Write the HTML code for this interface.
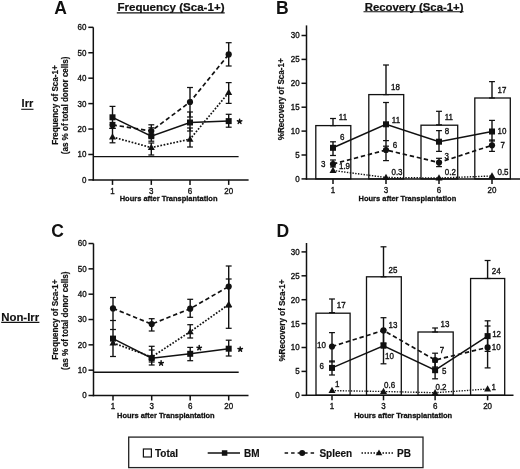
<!DOCTYPE html>
<html><head><meta charset="utf-8"><style>
html,body{margin:0;padding:0;background:#fff;}
svg{display:block;will-change:transform;}
text{font-family:"Liberation Sans", sans-serif;fill:#111;}
</style></head><body>
<svg width="520" height="469" viewBox="0 0 520 469">
<rect width="520" height="469" fill="#fff"/>
<text x="54.3" y="13.5" font-size="17.5" font-weight="bold" text-anchor="start">A</text>
<text x="171" y="11.2" font-size="10.7" font-weight="bold" text-anchor="middle" textLength="107" lengthAdjust="spacingAndGlyphs" stroke="#111" stroke-width="0.2">Frequency (Sca-1+)</text>
<line x1="116.8" y1="12.9" x2="224.7" y2="12.9" stroke="#111" stroke-width="1.1"/>
<text x="21.6" y="107.3" font-size="11" font-weight="bold" text-anchor="start" stroke="#111" stroke-width="0.15">Irr</text>
<line x1="21.2" y1="109.3" x2="33.5" y2="109.3" stroke="#111" stroke-width="1.1"/>
<text transform="translate(57.9,105) rotate(-90)" font-size="8.3" font-weight="bold" text-anchor="middle" textLength="79.6" lengthAdjust="spacingAndGlyphs" stroke="#111" stroke-width="0.2">Frequency of Sca-1+</text>
<text transform="translate(67.5,105.4) rotate(-90)" font-size="8.3" font-weight="bold" text-anchor="middle" textLength="97.6" lengthAdjust="spacingAndGlyphs" stroke="#111" stroke-width="0.2">(as % of total donor cells)</text>
<line x1="93.3" y1="27.32" x2="93.3" y2="180.65" stroke="#111" stroke-width="1.5"/>
<line x1="88.3" y1="179.9" x2="93.3" y2="179.9" stroke="#111" stroke-width="1.5"/>
<text transform="translate(86.5,182.8) scale(1,1.1)" font-size="8" font-weight="normal" text-anchor="end" stroke="#111" stroke-width="0.32">0</text>
<line x1="88.3" y1="154.47" x2="93.3" y2="154.47" stroke="#111" stroke-width="1.5"/>
<text transform="translate(86.5,157.37) scale(1,1.1)" font-size="8" font-weight="normal" text-anchor="end" stroke="#111" stroke-width="0.32">10</text>
<line x1="88.3" y1="129.04" x2="93.3" y2="129.04" stroke="#111" stroke-width="1.5"/>
<text transform="translate(86.5,131.94) scale(1,1.1)" font-size="8" font-weight="normal" text-anchor="end" stroke="#111" stroke-width="0.32">20</text>
<line x1="88.3" y1="103.61" x2="93.3" y2="103.61" stroke="#111" stroke-width="1.5"/>
<text transform="translate(86.5,106.51) scale(1,1.1)" font-size="8" font-weight="normal" text-anchor="end" stroke="#111" stroke-width="0.32">30</text>
<line x1="88.3" y1="78.18" x2="93.3" y2="78.18" stroke="#111" stroke-width="1.5"/>
<text transform="translate(86.5,81.08000000000001) scale(1,1.1)" font-size="8" font-weight="normal" text-anchor="end" stroke="#111" stroke-width="0.32">40</text>
<line x1="88.3" y1="52.75" x2="93.3" y2="52.75" stroke="#111" stroke-width="1.5"/>
<text transform="translate(86.5,55.65) scale(1,1.1)" font-size="8" font-weight="normal" text-anchor="end" stroke="#111" stroke-width="0.32">50</text>
<line x1="88.3" y1="27.32" x2="93.3" y2="27.32" stroke="#111" stroke-width="1.5"/>
<text transform="translate(86.5,30.22) scale(1,1.1)" font-size="8" font-weight="normal" text-anchor="end" stroke="#111" stroke-width="0.32">60</text>
<line x1="92.55" y1="179.9" x2="248.6" y2="179.9" stroke="#111" stroke-width="1.5"/>
<line x1="112.5" y1="179.9" x2="112.5" y2="184.9" stroke="#111" stroke-width="1.5"/>
<text transform="translate(112.5,193.6) scale(1,1.1)" font-size="8" font-weight="normal" text-anchor="middle" stroke="#111" stroke-width="0.32">1</text>
<line x1="151.3" y1="179.9" x2="151.3" y2="184.9" stroke="#111" stroke-width="1.5"/>
<text transform="translate(151.3,193.6) scale(1,1.1)" font-size="8" font-weight="normal" text-anchor="middle" stroke="#111" stroke-width="0.32">3</text>
<line x1="190" y1="179.9" x2="190" y2="184.9" stroke="#111" stroke-width="1.5"/>
<text transform="translate(190,193.6) scale(1,1.1)" font-size="8" font-weight="normal" text-anchor="middle" stroke="#111" stroke-width="0.32">6</text>
<line x1="228.7" y1="179.9" x2="228.7" y2="184.9" stroke="#111" stroke-width="1.5"/>
<text transform="translate(228.7,193.6) scale(1,1.1)" font-size="8" font-weight="normal" text-anchor="middle" stroke="#111" stroke-width="0.32">20</text>
<text x="168.6" y="201.2" font-size="8.1" font-weight="bold" text-anchor="middle" textLength="97.8" lengthAdjust="spacingAndGlyphs" stroke="#111" stroke-width="0.3">Hours after Transplantation</text>
<line x1="93.3" y1="156.6" x2="238.6" y2="156.6" stroke="#111" stroke-width="1.4"/>
<line x1="112.5" y1="106.4" x2="112.5" y2="128.4" stroke="#111" stroke-width="1.4"/>
<line x1="109.55" y1="106.4" x2="115.45" y2="106.4" stroke="#111" stroke-width="1.25"/>
<line x1="109.55" y1="128.4" x2="115.45" y2="128.4" stroke="#111" stroke-width="1.25"/>
<line x1="112.5" y1="122.5" x2="112.5" y2="128.4" stroke="#111" stroke-width="1.4"/>
<line x1="109.55" y1="122.5" x2="115.45" y2="122.5" stroke="#111" stroke-width="1.25"/>
<line x1="109.55" y1="128.4" x2="115.45" y2="128.4" stroke="#111" stroke-width="1.25"/>
<line x1="112.5" y1="128.4" x2="112.5" y2="142.8" stroke="#111" stroke-width="1.4"/>
<line x1="109.55" y1="128.4" x2="115.45" y2="128.4" stroke="#111" stroke-width="1.25"/>
<line x1="109.55" y1="142.8" x2="115.45" y2="142.8" stroke="#111" stroke-width="1.25"/>
<line x1="151.3" y1="124.8" x2="151.3" y2="141.2" stroke="#111" stroke-width="1.4"/>
<line x1="148.35000000000002" y1="124.8" x2="154.25" y2="124.8" stroke="#111" stroke-width="1.25"/>
<line x1="148.35000000000002" y1="141.2" x2="154.25" y2="141.2" stroke="#111" stroke-width="1.25"/>
<line x1="151.3" y1="127.8" x2="151.3" y2="137" stroke="#111" stroke-width="1.4"/>
<line x1="148.35000000000002" y1="127.8" x2="154.25" y2="127.8" stroke="#111" stroke-width="1.25"/>
<line x1="148.35000000000002" y1="137" x2="154.25" y2="137" stroke="#111" stroke-width="1.25"/>
<line x1="151.3" y1="143" x2="151.3" y2="155" stroke="#111" stroke-width="1.4"/>
<line x1="148.35000000000002" y1="143" x2="154.25" y2="143" stroke="#111" stroke-width="1.25"/>
<line x1="148.35000000000002" y1="155" x2="154.25" y2="155" stroke="#111" stroke-width="1.25"/>
<line x1="190" y1="87.5" x2="190" y2="117" stroke="#111" stroke-width="1.4"/>
<line x1="187.05" y1="87.5" x2="192.95" y2="87.5" stroke="#111" stroke-width="1.25"/>
<line x1="187.05" y1="117" x2="192.95" y2="117" stroke="#111" stroke-width="1.25"/>
<line x1="190" y1="112" x2="190" y2="131" stroke="#111" stroke-width="1.4"/>
<line x1="187.05" y1="112" x2="192.95" y2="112" stroke="#111" stroke-width="1.25"/>
<line x1="187.05" y1="131" x2="192.95" y2="131" stroke="#111" stroke-width="1.25"/>
<line x1="190" y1="128" x2="190" y2="147" stroke="#111" stroke-width="1.4"/>
<line x1="187.05" y1="128" x2="192.95" y2="128" stroke="#111" stroke-width="1.25"/>
<line x1="187.05" y1="147" x2="192.95" y2="147" stroke="#111" stroke-width="1.25"/>
<line x1="228.7" y1="42.7" x2="228.7" y2="66" stroke="#111" stroke-width="1.4"/>
<line x1="225.75" y1="42.7" x2="231.64999999999998" y2="42.7" stroke="#111" stroke-width="1.25"/>
<line x1="225.75" y1="66" x2="231.64999999999998" y2="66" stroke="#111" stroke-width="1.25"/>
<line x1="228.7" y1="82.6" x2="228.7" y2="103.4" stroke="#111" stroke-width="1.4"/>
<line x1="225.75" y1="82.6" x2="231.64999999999998" y2="82.6" stroke="#111" stroke-width="1.25"/>
<line x1="225.75" y1="103.4" x2="231.64999999999998" y2="103.4" stroke="#111" stroke-width="1.25"/>
<line x1="228.7" y1="114.3" x2="228.7" y2="127.2" stroke="#111" stroke-width="1.4"/>
<line x1="225.75" y1="114.3" x2="231.64999999999998" y2="114.3" stroke="#111" stroke-width="1.25"/>
<line x1="225.75" y1="127.2" x2="231.64999999999998" y2="127.2" stroke="#111" stroke-width="1.25"/>
<polyline points="112.5,117.3 151.3,136.2 190,122.5 228.7,121.1" fill="none" stroke="#111" stroke-width="1.5"/>
<polyline points="112.5,124.9 151.3,131.0 190,102.0 228.7,54.4" fill="none" stroke="#111" stroke-width="1.7" stroke-dasharray="4.4,2.8"/>
<polyline points="112.5,137 151.3,147.6 190,139.2 228.7,92.6" fill="none" stroke="#111" stroke-width="1.7" stroke-dasharray="1.7,1.6"/>
<rect x="109.5" y="114.3" width="6" height="6" fill="#111"/>
<rect x="148.3" y="133.2" width="6" height="6" fill="#111"/>
<rect x="187.0" y="119.5" width="6" height="6" fill="#111"/>
<rect x="225.7" y="118.1" width="6" height="6" fill="#111"/>
<circle cx="112.5" cy="124.9" r="3.1" fill="#111"/>
<circle cx="151.3" cy="131.0" r="3.1" fill="#111"/>
<circle cx="190" cy="102.0" r="3.1" fill="#111"/>
<circle cx="228.7" cy="54.4" r="3.1" fill="#111"/>
<polygon points="112.5,133.22 116.0,139.52 109.0,139.52" fill="#111"/>
<polygon points="151.3,143.82 154.8,150.12 147.8,150.12" fill="#111"/>
<polygon points="190,135.42 193.5,141.72 186.5,141.72" fill="#111"/>
<polygon points="228.7,88.82 232.2,95.11999999999999 225.2,95.11999999999999" fill="#111"/>
<path d="M239.6,121.5L239.6,119.15 M239.6,121.5L241.83,120.77 M239.6,121.5L240.98,123.4 M239.6,121.5L238.22,123.4 M239.6,121.5L237.37,120.77" stroke="#111" stroke-width="1.5" stroke-linecap="round" fill="none"/>
<circle cx="239.6" cy="121.5" r="0.9" fill="#111"/>
<text x="51.2" y="236.9" font-size="17.5" font-weight="bold" text-anchor="start">C</text>
<text x="1.2" y="320.7" font-size="11" font-weight="bold" text-anchor="start" textLength="38" lengthAdjust="spacingAndGlyphs" stroke="#111" stroke-width="0.15">Non-Irr</text>
<line x1="1.2" y1="322.4" x2="39.4" y2="322.4" stroke="#111" stroke-width="1.1"/>
<text transform="translate(57.9,319.7) rotate(-90)" font-size="8.3" font-weight="bold" text-anchor="middle" textLength="80.3" lengthAdjust="spacingAndGlyphs" stroke="#111" stroke-width="0.2">Frequency of Sca-1+</text>
<text transform="translate(67.5,320.8) rotate(-90)" font-size="8.3" font-weight="bold" text-anchor="middle" textLength="98.3" lengthAdjust="spacingAndGlyphs" stroke="#111" stroke-width="0.2">(as % of total donor cells)</text>
<line x1="93.5" y1="243.52" x2="93.5" y2="396.25" stroke="#111" stroke-width="1.5"/>
<line x1="88.5" y1="395.5" x2="93.5" y2="395.5" stroke="#111" stroke-width="1.5"/>
<text transform="translate(86.7,398.4) scale(1,1.1)" font-size="8" font-weight="normal" text-anchor="end" stroke="#111" stroke-width="0.32">0</text>
<line x1="88.5" y1="370.17" x2="93.5" y2="370.17" stroke="#111" stroke-width="1.5"/>
<text transform="translate(86.7,373.07) scale(1,1.1)" font-size="8" font-weight="normal" text-anchor="end" stroke="#111" stroke-width="0.32">10</text>
<line x1="88.5" y1="344.84" x2="93.5" y2="344.84" stroke="#111" stroke-width="1.5"/>
<text transform="translate(86.7,347.73999999999995) scale(1,1.1)" font-size="8" font-weight="normal" text-anchor="end" stroke="#111" stroke-width="0.32">20</text>
<line x1="88.5" y1="319.51" x2="93.5" y2="319.51" stroke="#111" stroke-width="1.5"/>
<text transform="translate(86.7,322.40999999999997) scale(1,1.1)" font-size="8" font-weight="normal" text-anchor="end" stroke="#111" stroke-width="0.32">30</text>
<line x1="88.5" y1="294.18" x2="93.5" y2="294.18" stroke="#111" stroke-width="1.5"/>
<text transform="translate(86.7,297.08) scale(1,1.1)" font-size="8" font-weight="normal" text-anchor="end" stroke="#111" stroke-width="0.32">40</text>
<line x1="88.5" y1="268.85" x2="93.5" y2="268.85" stroke="#111" stroke-width="1.5"/>
<text transform="translate(86.7,271.75) scale(1,1.1)" font-size="8" font-weight="normal" text-anchor="end" stroke="#111" stroke-width="0.32">50</text>
<line x1="88.5" y1="243.52" x2="93.5" y2="243.52" stroke="#111" stroke-width="1.5"/>
<text transform="translate(86.7,246.42000000000002) scale(1,1.1)" font-size="8" font-weight="normal" text-anchor="end" stroke="#111" stroke-width="0.32">60</text>
<line x1="92.75" y1="395.5" x2="248.5" y2="395.5" stroke="#111" stroke-width="1.5"/>
<line x1="113" y1="395.5" x2="113" y2="400.5" stroke="#111" stroke-width="1.5"/>
<text transform="translate(113,408.9) scale(1,1.1)" font-size="8" font-weight="normal" text-anchor="middle" stroke="#111" stroke-width="0.32">1</text>
<line x1="151.7" y1="395.5" x2="151.7" y2="400.5" stroke="#111" stroke-width="1.5"/>
<text transform="translate(151.7,408.9) scale(1,1.1)" font-size="8" font-weight="normal" text-anchor="middle" stroke="#111" stroke-width="0.32">3</text>
<line x1="190.2" y1="395.5" x2="190.2" y2="400.5" stroke="#111" stroke-width="1.5"/>
<text transform="translate(190.2,408.9) scale(1,1.1)" font-size="8" font-weight="normal" text-anchor="middle" stroke="#111" stroke-width="0.32">6</text>
<line x1="228.7" y1="395.5" x2="228.7" y2="400.5" stroke="#111" stroke-width="1.5"/>
<text transform="translate(228.7,408.9) scale(1,1.1)" font-size="8" font-weight="normal" text-anchor="middle" stroke="#111" stroke-width="0.32">20</text>
<text x="165.8" y="418.0" font-size="8.1" font-weight="bold" text-anchor="middle" textLength="97.6" lengthAdjust="spacingAndGlyphs" stroke="#111" stroke-width="0.3">Hours after Transplantation</text>
<line x1="93.5" y1="372.3" x2="238.7" y2="372.3" stroke="#111" stroke-width="1.4"/>
<line x1="113" y1="297.5" x2="113" y2="320.5" stroke="#111" stroke-width="1.4"/>
<line x1="110.05" y1="297.5" x2="115.95" y2="297.5" stroke="#111" stroke-width="1.25"/>
<line x1="110.05" y1="320.5" x2="115.95" y2="320.5" stroke="#111" stroke-width="1.25"/>
<line x1="113" y1="329.5" x2="113" y2="356.5" stroke="#111" stroke-width="1.4"/>
<line x1="110.05" y1="329.5" x2="115.95" y2="329.5" stroke="#111" stroke-width="1.25"/>
<line x1="110.05" y1="356.5" x2="115.95" y2="356.5" stroke="#111" stroke-width="1.25"/>
<line x1="113" y1="320.5" x2="113" y2="329.5" stroke="#111" stroke-width="1.4"/>
<line x1="151.7" y1="318.7" x2="151.7" y2="331" stroke="#111" stroke-width="1.4"/>
<line x1="148.75" y1="318.7" x2="154.64999999999998" y2="318.7" stroke="#111" stroke-width="1.25"/>
<line x1="148.75" y1="331" x2="154.64999999999998" y2="331" stroke="#111" stroke-width="1.25"/>
<line x1="151.7" y1="346.3" x2="151.7" y2="365" stroke="#111" stroke-width="1.4"/>
<line x1="148.75" y1="346.3" x2="154.64999999999998" y2="346.3" stroke="#111" stroke-width="1.25"/>
<line x1="148.75" y1="365" x2="154.64999999999998" y2="365" stroke="#111" stroke-width="1.25"/>
<line x1="151.7" y1="350" x2="151.7" y2="362" stroke="#111" stroke-width="1.4"/>
<line x1="148.75" y1="350" x2="154.64999999999998" y2="350" stroke="#111" stroke-width="1.25"/>
<line x1="148.75" y1="362" x2="154.64999999999998" y2="362" stroke="#111" stroke-width="1.25"/>
<line x1="190.2" y1="299.3" x2="190.2" y2="317.3" stroke="#111" stroke-width="1.4"/>
<line x1="187.25" y1="299.3" x2="193.14999999999998" y2="299.3" stroke="#111" stroke-width="1.25"/>
<line x1="187.25" y1="317.3" x2="193.14999999999998" y2="317.3" stroke="#111" stroke-width="1.25"/>
<line x1="190.2" y1="324.7" x2="190.2" y2="338" stroke="#111" stroke-width="1.4"/>
<line x1="187.25" y1="324.7" x2="193.14999999999998" y2="324.7" stroke="#111" stroke-width="1.25"/>
<line x1="187.25" y1="338" x2="193.14999999999998" y2="338" stroke="#111" stroke-width="1.25"/>
<line x1="190.2" y1="347.4" x2="190.2" y2="360.7" stroke="#111" stroke-width="1.4"/>
<line x1="187.25" y1="347.4" x2="193.14999999999998" y2="347.4" stroke="#111" stroke-width="1.25"/>
<line x1="187.25" y1="360.7" x2="193.14999999999998" y2="360.7" stroke="#111" stroke-width="1.25"/>
<line x1="228.7" y1="266" x2="228.7" y2="307" stroke="#111" stroke-width="1.4"/>
<line x1="225.75" y1="266" x2="231.64999999999998" y2="266" stroke="#111" stroke-width="1.25"/>
<line x1="225.75" y1="307" x2="231.64999999999998" y2="307" stroke="#111" stroke-width="1.25"/>
<line x1="228.7" y1="279" x2="228.7" y2="328.3" stroke="#111" stroke-width="1.4"/>
<line x1="225.75" y1="279" x2="231.64999999999998" y2="279" stroke="#111" stroke-width="1.25"/>
<line x1="225.75" y1="328.3" x2="231.64999999999998" y2="328.3" stroke="#111" stroke-width="1.25"/>
<line x1="228.7" y1="340.2" x2="228.7" y2="356" stroke="#111" stroke-width="1.4"/>
<line x1="225.75" y1="340.2" x2="231.64999999999998" y2="340.2" stroke="#111" stroke-width="1.25"/>
<line x1="225.75" y1="356" x2="231.64999999999998" y2="356" stroke="#111" stroke-width="1.25"/>
<polyline points="113,338.6 151.7,358.2 190.2,353.8 228.7,348.7" fill="none" stroke="#111" stroke-width="1.5"/>
<polyline points="113,308.4 151.7,324.1 190.2,308.7 228.7,286.5" fill="none" stroke="#111" stroke-width="1.7" stroke-dasharray="4.4,2.8"/>
<polyline points="113,342.9 151.7,357 190.2,331.7 228.7,304.5" fill="none" stroke="#111" stroke-width="1.7" stroke-dasharray="1.7,1.6"/>
<rect x="110.0" y="335.6" width="6" height="6" fill="#111"/>
<rect x="148.7" y="355.2" width="6" height="6" fill="#111"/>
<rect x="187.2" y="350.8" width="6" height="6" fill="#111"/>
<rect x="225.7" y="345.7" width="6" height="6" fill="#111"/>
<circle cx="113" cy="308.4" r="3.1" fill="#111"/>
<circle cx="151.7" cy="324.1" r="3.1" fill="#111"/>
<circle cx="190.2" cy="308.7" r="3.1" fill="#111"/>
<circle cx="228.7" cy="286.5" r="3.1" fill="#111"/>
<polygon points="113,339.12 116.5,345.41999999999996 109.5,345.41999999999996" fill="#111"/>
<polygon points="151.7,353.22 155.2,359.52 148.2,359.52" fill="#111"/>
<polygon points="190.2,327.92 193.7,334.21999999999997 186.7,334.21999999999997" fill="#111"/>
<polygon points="228.7,300.72 232.2,307.02 225.2,307.02" fill="#111"/>
<path d="M161.1,363.2L161.1,360.85 M161.1,363.2L163.33,362.47 M161.1,363.2L162.48,365.1 M161.1,363.2L159.72,365.1 M161.1,363.2L158.87,362.47" stroke="#111" stroke-width="1.5" stroke-linecap="round" fill="none"/>
<circle cx="161.1" cy="363.2" r="0.9" fill="#111"/>
<path d="M199.2,347.9L199.2,345.55 M199.2,347.9L201.43,347.17 M199.2,347.9L200.58,349.8 M199.2,347.9L197.82,349.8 M199.2,347.9L196.97,347.17" stroke="#111" stroke-width="1.5" stroke-linecap="round" fill="none"/>
<circle cx="199.2" cy="347.9" r="0.9" fill="#111"/>
<path d="M240.2,349.3L240.2,346.95 M240.2,349.3L242.43,348.57 M240.2,349.3L241.58,351.2 M240.2,349.3L238.82,351.2 M240.2,349.3L237.97,348.57" stroke="#111" stroke-width="1.5" stroke-linecap="round" fill="none"/>
<circle cx="240.2" cy="349.3" r="0.9" fill="#111"/>
<text x="276" y="13.5" font-size="17.5" font-weight="bold" text-anchor="start">B</text>
<text x="414.1" y="10.5" font-size="10.4" font-weight="bold" text-anchor="middle" textLength="98.7" lengthAdjust="spacingAndGlyphs" stroke="#111" stroke-width="0.2">Recovery (Sca-1+)</text>
<line x1="363.5" y1="11.8" x2="463.6" y2="11.8" stroke="#111" stroke-width="1.1"/>
<text transform="translate(284.3,99.3) rotate(-90)" font-size="8.4" font-weight="bold" text-anchor="middle" textLength="82" lengthAdjust="spacingAndGlyphs" stroke="#111" stroke-width="0.2">%Recovery of Sca-1+</text>
<rect x="315.8" y="125.6" width="35.0" height="53.30000000000001" fill="none" stroke="#111" stroke-width="1.3"/>
<rect x="368.8" y="94.6" width="34.89999999999998" height="84.30000000000001" fill="none" stroke="#111" stroke-width="1.3"/>
<rect x="421" y="125.2" width="36.69999999999999" height="53.7" fill="none" stroke="#111" stroke-width="1.3"/>
<rect x="474.8" y="98" width="35.5" height="80.9" fill="none" stroke="#111" stroke-width="1.3"/>
<line x1="333" y1="118.5" x2="333" y2="125.6" stroke="#111" stroke-width="1.4"/>
<line x1="330.05" y1="118.5" x2="335.95" y2="118.5" stroke="#111" stroke-width="1.25"/>
<line x1="330.05" y1="125.6" x2="335.95" y2="125.6" stroke="#111" stroke-width="1.25"/>
<line x1="386" y1="65" x2="386" y2="94.6" stroke="#111" stroke-width="1.4"/>
<line x1="383.05" y1="65" x2="388.95" y2="65" stroke="#111" stroke-width="1.25"/>
<line x1="383.05" y1="94.6" x2="388.95" y2="94.6" stroke="#111" stroke-width="1.25"/>
<line x1="439" y1="111.3" x2="439" y2="124.8" stroke="#111" stroke-width="1.4"/>
<line x1="436.05" y1="111.3" x2="441.95" y2="111.3" stroke="#111" stroke-width="1.25"/>
<line x1="436.05" y1="124.8" x2="441.95" y2="124.8" stroke="#111" stroke-width="1.25"/>
<line x1="492" y1="81.6" x2="492" y2="98" stroke="#111" stroke-width="1.4"/>
<line x1="489.05" y1="81.6" x2="494.95" y2="81.6" stroke="#111" stroke-width="1.25"/>
<line x1="489.05" y1="98" x2="494.95" y2="98" stroke="#111" stroke-width="1.25"/>
<line x1="306.5" y1="25.4" x2="306.5" y2="179.65" stroke="#111" stroke-width="1.5"/>
<line x1="301.5" y1="178.9" x2="306.5" y2="178.9" stroke="#111" stroke-width="1.5"/>
<text transform="translate(299.7,181.8) scale(1,1.1)" font-size="8" font-weight="normal" text-anchor="end" stroke="#111" stroke-width="0.32">0</text>
<line x1="301.5" y1="155.0" x2="306.5" y2="155.0" stroke="#111" stroke-width="1.5"/>
<text transform="translate(299.7,157.9) scale(1,1.1)" font-size="8" font-weight="normal" text-anchor="end" stroke="#111" stroke-width="0.32">5</text>
<line x1="301.5" y1="131.1" x2="306.5" y2="131.1" stroke="#111" stroke-width="1.5"/>
<text transform="translate(299.7,134.0) scale(1,1.1)" font-size="8" font-weight="normal" text-anchor="end" stroke="#111" stroke-width="0.32">10</text>
<line x1="301.5" y1="107.2" x2="306.5" y2="107.2" stroke="#111" stroke-width="1.5"/>
<text transform="translate(299.7,110.10000000000001) scale(1,1.1)" font-size="8" font-weight="normal" text-anchor="end" stroke="#111" stroke-width="0.32">15</text>
<line x1="301.5" y1="83.3" x2="306.5" y2="83.3" stroke="#111" stroke-width="1.5"/>
<text transform="translate(299.7,86.2) scale(1,1.1)" font-size="8" font-weight="normal" text-anchor="end" stroke="#111" stroke-width="0.32">20</text>
<line x1="301.5" y1="59.4" x2="306.5" y2="59.4" stroke="#111" stroke-width="1.5"/>
<text transform="translate(299.7,62.3) scale(1,1.1)" font-size="8" font-weight="normal" text-anchor="end" stroke="#111" stroke-width="0.32">25</text>
<line x1="301.5" y1="35.5" x2="306.5" y2="35.5" stroke="#111" stroke-width="1.5"/>
<text transform="translate(299.7,38.4) scale(1,1.1)" font-size="8" font-weight="normal" text-anchor="end" stroke="#111" stroke-width="0.32">30</text>
<line x1="305.75" y1="178.9" x2="520" y2="178.9" stroke="#111" stroke-width="1.5"/>
<line x1="333" y1="178.9" x2="333" y2="183.9" stroke="#111" stroke-width="1.5"/>
<text transform="translate(333,192.7) scale(1,1.1)" font-size="8" font-weight="normal" text-anchor="middle" stroke="#111" stroke-width="0.32">1</text>
<line x1="386" y1="178.9" x2="386" y2="183.9" stroke="#111" stroke-width="1.5"/>
<text transform="translate(386,192.7) scale(1,1.1)" font-size="8" font-weight="normal" text-anchor="middle" stroke="#111" stroke-width="0.32">3</text>
<line x1="439" y1="178.9" x2="439" y2="183.9" stroke="#111" stroke-width="1.5"/>
<text transform="translate(439,192.7) scale(1,1.1)" font-size="8" font-weight="normal" text-anchor="middle" stroke="#111" stroke-width="0.32">6</text>
<line x1="492" y1="178.9" x2="492" y2="183.9" stroke="#111" stroke-width="1.5"/>
<text transform="translate(492,192.7) scale(1,1.1)" font-size="8" font-weight="normal" text-anchor="middle" stroke="#111" stroke-width="0.32">20</text>
<text x="407.4" y="201.2" font-size="8.1" font-weight="bold" text-anchor="middle" textLength="97.7" lengthAdjust="spacingAndGlyphs" stroke="#111" stroke-width="0.3">Hours after Transplantation</text>
<line x1="333" y1="141.8" x2="333" y2="155.5" stroke="#111" stroke-width="1.4"/>
<line x1="330.05" y1="141.8" x2="335.95" y2="141.8" stroke="#111" stroke-width="1.25"/>
<line x1="330.05" y1="155.5" x2="335.95" y2="155.5" stroke="#111" stroke-width="1.25"/>
<line x1="333" y1="160" x2="333" y2="167" stroke="#111" stroke-width="1.4"/>
<line x1="330.05" y1="160" x2="335.95" y2="160" stroke="#111" stroke-width="1.25"/>
<line x1="330.05" y1="167" x2="335.95" y2="167" stroke="#111" stroke-width="1.25"/>
<line x1="386" y1="102.5" x2="386" y2="140.6" stroke="#111" stroke-width="1.4"/>
<line x1="383.05" y1="102.5" x2="388.95" y2="102.5" stroke="#111" stroke-width="1.25"/>
<line x1="383.05" y1="140.6" x2="388.95" y2="140.6" stroke="#111" stroke-width="1.25"/>
<line x1="386" y1="146.2" x2="386" y2="160.6" stroke="#111" stroke-width="1.4"/>
<line x1="383.05" y1="146.2" x2="388.95" y2="146.2" stroke="#111" stroke-width="1.25"/>
<line x1="383.05" y1="160.6" x2="388.95" y2="160.6" stroke="#111" stroke-width="1.25"/>
<line x1="386" y1="140.6" x2="386" y2="146.2" stroke="#111" stroke-width="1.4"/>
<line x1="439" y1="130.6" x2="439" y2="151.4" stroke="#111" stroke-width="1.4"/>
<line x1="436.05" y1="130.6" x2="441.95" y2="130.6" stroke="#111" stroke-width="1.25"/>
<line x1="436.05" y1="151.4" x2="441.95" y2="151.4" stroke="#111" stroke-width="1.25"/>
<line x1="439" y1="158.3" x2="439" y2="166.6" stroke="#111" stroke-width="1.4"/>
<line x1="436.05" y1="158.3" x2="441.95" y2="158.3" stroke="#111" stroke-width="1.25"/>
<line x1="436.05" y1="166.6" x2="441.95" y2="166.6" stroke="#111" stroke-width="1.25"/>
<line x1="492" y1="120.4" x2="492" y2="141" stroke="#111" stroke-width="1.4"/>
<line x1="489.05" y1="120.4" x2="494.95" y2="120.4" stroke="#111" stroke-width="1.25"/>
<line x1="489.05" y1="141" x2="494.95" y2="141" stroke="#111" stroke-width="1.25"/>
<line x1="492" y1="140" x2="492" y2="151.4" stroke="#111" stroke-width="1.4"/>
<line x1="489.05" y1="140" x2="494.95" y2="140" stroke="#111" stroke-width="1.25"/>
<line x1="489.05" y1="151.4" x2="494.95" y2="151.4" stroke="#111" stroke-width="1.25"/>
<polyline points="333,147.8 386,124.3 439,141.7 492,131.5" fill="none" stroke="#111" stroke-width="1.5"/>
<polyline points="333,164 386,150 439,162.5 492,145.3" fill="none" stroke="#111" stroke-width="1.7" stroke-dasharray="4.4,2.8"/>
<polyline points="333,170.5 386,177.5 439,178 492,176" fill="none" stroke="#111" stroke-width="1.4" stroke-dasharray="1.4,1.4"/>
<rect x="330.0" y="144.8" width="6" height="6" fill="#111"/>
<rect x="383.0" y="121.3" width="6" height="6" fill="#111"/>
<rect x="436.0" y="138.7" width="6" height="6" fill="#111"/>
<rect x="489.0" y="128.5" width="6" height="6" fill="#111"/>
<circle cx="333" cy="164" r="3.1" fill="#111"/>
<circle cx="386" cy="150" r="3.1" fill="#111"/>
<circle cx="439" cy="162.5" r="3.1" fill="#111"/>
<circle cx="492" cy="145.3" r="3.1" fill="#111"/>
<polygon points="333,166.72 336.5,173.02 329.5,173.02" fill="#111"/>
<polygon points="386,173.72 389.5,180.02 382.5,180.02" fill="#111"/>
<polygon points="439,174.22 442.5,180.52 435.5,180.52" fill="#111"/>
<polygon points="492,172.22 495.5,178.52 488.5,178.52" fill="#111"/>
<text transform="translate(343,119.5) scale(1,1.1)" font-size="8" font-weight="normal" text-anchor="middle" stroke="#111" stroke-width="0.32">11</text>
<text transform="translate(395.5,90) scale(1,1.1)" font-size="8" font-weight="normal" text-anchor="middle" stroke="#111" stroke-width="0.32">18</text>
<text transform="translate(448.8,120.2) scale(1,1.1)" font-size="8" font-weight="normal" text-anchor="middle" stroke="#111" stroke-width="0.32">11</text>
<text transform="translate(502,92.8) scale(1,1.1)" font-size="8" font-weight="normal" text-anchor="middle" stroke="#111" stroke-width="0.32">17</text>
<text transform="translate(342.3,140.3) scale(1,1.1)" font-size="8" font-weight="normal" text-anchor="middle" stroke="#111" stroke-width="0.32">6</text>
<text transform="translate(396,123.3) scale(1,1.1)" font-size="8" font-weight="normal" text-anchor="middle" stroke="#111" stroke-width="0.32">11</text>
<text transform="translate(447,133.5) scale(1,1.1)" font-size="8" font-weight="normal" text-anchor="middle" stroke="#111" stroke-width="0.32">8</text>
<text transform="translate(502,133.8) scale(1,1.1)" font-size="8" font-weight="normal" text-anchor="middle" stroke="#111" stroke-width="0.32">10</text>
<text transform="translate(323.2,166.8) scale(1,1.1)" font-size="8" font-weight="normal" text-anchor="middle" stroke="#111" stroke-width="0.32">3</text>
<text transform="translate(395,148) scale(1,1.1)" font-size="8" font-weight="normal" text-anchor="middle" stroke="#111" stroke-width="0.32">6</text>
<text transform="translate(446.8,158.5) scale(1,1.1)" font-size="8" font-weight="normal" text-anchor="middle" stroke="#111" stroke-width="0.32">3</text>
<text transform="translate(502.8,148.2) scale(1,1.1)" font-size="8" font-weight="normal" text-anchor="middle" stroke="#111" stroke-width="0.32">7</text>
<text transform="translate(344.5,169.3) scale(1,1.1)" font-size="8" font-weight="normal" text-anchor="middle" stroke="#111" stroke-width="0.32">1.9</text>
<text transform="translate(397,175.4) scale(1,1.1)" font-size="8" font-weight="normal" text-anchor="middle" stroke="#111" stroke-width="0.32">0.3</text>
<text transform="translate(450.4,175.4) scale(1,1.1)" font-size="8" font-weight="normal" text-anchor="middle" stroke="#111" stroke-width="0.32">0.2</text>
<text transform="translate(503,175.4) scale(1,1.1)" font-size="8" font-weight="normal" text-anchor="middle" stroke="#111" stroke-width="0.32">0.5</text>
<text x="276.4" y="236.9" font-size="17.5" font-weight="bold" text-anchor="start">D</text>
<text transform="translate(284.5,320.6) rotate(-90)" font-size="8.4" font-weight="bold" text-anchor="middle" textLength="82" lengthAdjust="spacingAndGlyphs" stroke="#111" stroke-width="0.2">%Recovery of Sca-1+</text>
<rect x="316" y="313.2" width="34.10000000000002" height="82.10000000000002" fill="none" stroke="#111" stroke-width="1.3"/>
<rect x="366.5" y="276.8" width="34.80000000000001" height="118.5" fill="none" stroke="#111" stroke-width="1.3"/>
<rect x="418" y="332" width="35.19999999999999" height="63.30000000000001" fill="none" stroke="#111" stroke-width="1.3"/>
<rect x="470.6" y="278.5" width="34.099999999999966" height="116.80000000000001" fill="none" stroke="#111" stroke-width="1.3"/>
<line x1="332" y1="299" x2="332" y2="312.6" stroke="#111" stroke-width="1.4"/>
<line x1="329.05" y1="299" x2="334.95" y2="299" stroke="#111" stroke-width="1.25"/>
<line x1="329.05" y1="312.6" x2="334.95" y2="312.6" stroke="#111" stroke-width="1.25"/>
<line x1="383.5" y1="246.8" x2="383.5" y2="276.8" stroke="#111" stroke-width="1.4"/>
<line x1="380.55" y1="246.8" x2="386.45" y2="246.8" stroke="#111" stroke-width="1.25"/>
<line x1="380.55" y1="276.8" x2="386.45" y2="276.8" stroke="#111" stroke-width="1.25"/>
<line x1="435.1" y1="328" x2="435.1" y2="332" stroke="#111" stroke-width="1.4"/>
<line x1="432.15000000000003" y1="328" x2="438.05" y2="328" stroke="#111" stroke-width="1.25"/>
<line x1="432.15000000000003" y1="332" x2="438.05" y2="332" stroke="#111" stroke-width="1.25"/>
<line x1="487.6" y1="260.5" x2="487.6" y2="278.5" stroke="#111" stroke-width="1.4"/>
<line x1="484.65000000000003" y1="260.5" x2="490.55" y2="260.5" stroke="#111" stroke-width="1.25"/>
<line x1="484.65000000000003" y1="278.5" x2="490.55" y2="278.5" stroke="#111" stroke-width="1.25"/>
<line x1="306.5" y1="243" x2="306.5" y2="396.05" stroke="#111" stroke-width="1.5"/>
<line x1="301.5" y1="395.3" x2="306.5" y2="395.3" stroke="#111" stroke-width="1.5"/>
<text transform="translate(299.7,398.2) scale(1,1.1)" font-size="8" font-weight="normal" text-anchor="end" stroke="#111" stroke-width="0.32">0</text>
<line x1="301.5" y1="371.4" x2="306.5" y2="371.4" stroke="#111" stroke-width="1.5"/>
<text transform="translate(299.7,374.29999999999995) scale(1,1.1)" font-size="8" font-weight="normal" text-anchor="end" stroke="#111" stroke-width="0.32">5</text>
<line x1="301.5" y1="347.5" x2="306.5" y2="347.5" stroke="#111" stroke-width="1.5"/>
<text transform="translate(299.7,350.4) scale(1,1.1)" font-size="8" font-weight="normal" text-anchor="end" stroke="#111" stroke-width="0.32">10</text>
<line x1="301.5" y1="323.6" x2="306.5" y2="323.6" stroke="#111" stroke-width="1.5"/>
<text transform="translate(299.7,326.5) scale(1,1.1)" font-size="8" font-weight="normal" text-anchor="end" stroke="#111" stroke-width="0.32">15</text>
<line x1="301.5" y1="299.7" x2="306.5" y2="299.7" stroke="#111" stroke-width="1.5"/>
<text transform="translate(299.7,302.59999999999997) scale(1,1.1)" font-size="8" font-weight="normal" text-anchor="end" stroke="#111" stroke-width="0.32">20</text>
<line x1="301.5" y1="275.8" x2="306.5" y2="275.8" stroke="#111" stroke-width="1.5"/>
<text transform="translate(299.7,278.7) scale(1,1.1)" font-size="8" font-weight="normal" text-anchor="end" stroke="#111" stroke-width="0.32">25</text>
<line x1="301.5" y1="251.9" x2="306.5" y2="251.9" stroke="#111" stroke-width="1.5"/>
<text transform="translate(299.7,254.8) scale(1,1.1)" font-size="8" font-weight="normal" text-anchor="end" stroke="#111" stroke-width="0.32">30</text>
<line x1="305.75" y1="395.3" x2="513.5" y2="395.3" stroke="#111" stroke-width="1.5"/>
<line x1="332" y1="395.3" x2="332" y2="400.3" stroke="#111" stroke-width="1.5"/>
<text transform="translate(332,408.9) scale(1,1.1)" font-size="8" font-weight="normal" text-anchor="middle" stroke="#111" stroke-width="0.32">1</text>
<line x1="383.5" y1="395.3" x2="383.5" y2="400.3" stroke="#111" stroke-width="1.5"/>
<text transform="translate(383.5,408.9) scale(1,1.1)" font-size="8" font-weight="normal" text-anchor="middle" stroke="#111" stroke-width="0.32">3</text>
<line x1="435.1" y1="395.3" x2="435.1" y2="400.3" stroke="#111" stroke-width="1.5"/>
<text transform="translate(435.1,408.9) scale(1,1.1)" font-size="8" font-weight="normal" text-anchor="middle" stroke="#111" stroke-width="0.32">6</text>
<line x1="487.6" y1="395.3" x2="487.6" y2="400.3" stroke="#111" stroke-width="1.5"/>
<text transform="translate(487.6,408.9) scale(1,1.1)" font-size="8" font-weight="normal" text-anchor="middle" stroke="#111" stroke-width="0.32">20</text>
<text x="403.2" y="418.0" font-size="8.1" font-weight="bold" text-anchor="middle" textLength="98" lengthAdjust="spacingAndGlyphs" stroke="#111" stroke-width="0.3">Hours after Transplantation</text>
<line x1="332" y1="332.6" x2="332" y2="361.9" stroke="#111" stroke-width="1.4"/>
<line x1="329.05" y1="332.6" x2="334.95" y2="332.6" stroke="#111" stroke-width="1.25"/>
<line x1="329.05" y1="361.9" x2="334.95" y2="361.9" stroke="#111" stroke-width="1.25"/>
<line x1="332" y1="361" x2="332" y2="375" stroke="#111" stroke-width="1.4"/>
<line x1="329.05" y1="361" x2="334.95" y2="361" stroke="#111" stroke-width="1.25"/>
<line x1="329.05" y1="375" x2="334.95" y2="375" stroke="#111" stroke-width="1.25"/>
<line x1="383.5" y1="317.7" x2="383.5" y2="343" stroke="#111" stroke-width="1.4"/>
<line x1="380.55" y1="317.7" x2="386.45" y2="317.7" stroke="#111" stroke-width="1.25"/>
<line x1="380.55" y1="343" x2="386.45" y2="343" stroke="#111" stroke-width="1.25"/>
<line x1="383.5" y1="330" x2="383.5" y2="363.8" stroke="#111" stroke-width="1.4"/>
<line x1="380.55" y1="330" x2="386.45" y2="330" stroke="#111" stroke-width="1.25"/>
<line x1="380.55" y1="363.8" x2="386.45" y2="363.8" stroke="#111" stroke-width="1.25"/>
<line x1="435.1" y1="353.2" x2="435.1" y2="367" stroke="#111" stroke-width="1.4"/>
<line x1="432.15000000000003" y1="353.2" x2="438.05" y2="353.2" stroke="#111" stroke-width="1.25"/>
<line x1="432.15000000000003" y1="367" x2="438.05" y2="367" stroke="#111" stroke-width="1.25"/>
<line x1="435.1" y1="362" x2="435.1" y2="378.8" stroke="#111" stroke-width="1.4"/>
<line x1="432.15000000000003" y1="362" x2="438.05" y2="362" stroke="#111" stroke-width="1.25"/>
<line x1="432.15000000000003" y1="378.8" x2="438.05" y2="378.8" stroke="#111" stroke-width="1.25"/>
<line x1="487.6" y1="320.8" x2="487.6" y2="351.4" stroke="#111" stroke-width="1.4"/>
<line x1="484.65000000000003" y1="320.8" x2="490.55" y2="320.8" stroke="#111" stroke-width="1.25"/>
<line x1="484.65000000000003" y1="351.4" x2="490.55" y2="351.4" stroke="#111" stroke-width="1.25"/>
<line x1="487.6" y1="326" x2="487.6" y2="367.9" stroke="#111" stroke-width="1.4"/>
<line x1="484.65000000000003" y1="326" x2="490.55" y2="326" stroke="#111" stroke-width="1.25"/>
<line x1="484.65000000000003" y1="367.9" x2="490.55" y2="367.9" stroke="#111" stroke-width="1.25"/>
<polyline points="332,367.9 383.5,345.7 435.1,370.2 487.6,336.1" fill="none" stroke="#111" stroke-width="1.5"/>
<polyline points="332,346.5 383.5,330.4 435.1,360 487.6,347.4" fill="none" stroke="#111" stroke-width="1.7" stroke-dasharray="4.4,2.8"/>
<polyline points="332,390.6 383.5,391.5 435.1,392.7 487.6,389" fill="none" stroke="#111" stroke-width="1.35" stroke-dasharray="1.35,1.35"/>
<rect x="329.0" y="364.9" width="6" height="6" fill="#111"/>
<rect x="380.5" y="342.7" width="6" height="6" fill="#111"/>
<rect x="432.1" y="367.2" width="6" height="6" fill="#111"/>
<rect x="484.6" y="333.1" width="6" height="6" fill="#111"/>
<circle cx="332" cy="346.5" r="3.1" fill="#111"/>
<circle cx="383.5" cy="330.4" r="3.1" fill="#111"/>
<circle cx="435.1" cy="360" r="3.1" fill="#111"/>
<circle cx="487.6" cy="347.4" r="3.1" fill="#111"/>
<polygon points="332,386.82000000000005 335.5,393.12 328.5,393.12" fill="#111"/>
<polygon points="383.5,387.72 387.0,394.02 380.0,394.02" fill="#111"/>
<polygon points="435.1,388.92 438.6,395.21999999999997 431.6,395.21999999999997" fill="#111"/>
<polygon points="487.6,385.22 491.1,391.52 484.1,391.52" fill="#111"/>
<text transform="translate(341.3,308.2) scale(1,1.1)" font-size="8" font-weight="normal" text-anchor="middle" stroke="#111" stroke-width="0.32">17</text>
<text transform="translate(392.9,272.6) scale(1,1.1)" font-size="8" font-weight="normal" text-anchor="middle" stroke="#111" stroke-width="0.32">25</text>
<text transform="translate(444.9,327.2) scale(1,1.1)" font-size="8" font-weight="normal" text-anchor="middle" stroke="#111" stroke-width="0.32">13</text>
<text transform="translate(496.3,274.3) scale(1,1.1)" font-size="8" font-weight="normal" text-anchor="middle" stroke="#111" stroke-width="0.32">24</text>
<text transform="translate(321.4,347.7) scale(1,1.1)" font-size="8" font-weight="normal" text-anchor="middle" stroke="#111" stroke-width="0.32">10</text>
<text transform="translate(321.8,368.7) scale(1,1.1)" font-size="8" font-weight="normal" text-anchor="middle" stroke="#111" stroke-width="0.32">6</text>
<text transform="translate(393,328.1) scale(1,1.1)" font-size="8" font-weight="normal" text-anchor="middle" stroke="#111" stroke-width="0.32">13</text>
<text transform="translate(389.4,358.9) scale(1,1.1)" font-size="8" font-weight="normal" text-anchor="middle" stroke="#111" stroke-width="0.32">10</text>
<text transform="translate(442,353.4) scale(1,1.1)" font-size="8" font-weight="normal" text-anchor="middle" stroke="#111" stroke-width="0.32">7</text>
<text transform="translate(444.3,374) scale(1,1.1)" font-size="8" font-weight="normal" text-anchor="middle" stroke="#111" stroke-width="0.32">5</text>
<text transform="translate(496.6,337.2) scale(1,1.1)" font-size="8" font-weight="normal" text-anchor="middle" stroke="#111" stroke-width="0.32">12</text>
<text transform="translate(496.3,350.3) scale(1,1.1)" font-size="8" font-weight="normal" text-anchor="middle" stroke="#111" stroke-width="0.32">10</text>
<text transform="translate(337.1,387.1) scale(1,1.1)" font-size="8" font-weight="normal" text-anchor="middle" stroke="#111" stroke-width="0.32">1</text>
<text transform="translate(389.6,387.9) scale(1,1.1)" font-size="8" font-weight="normal" text-anchor="middle" stroke="#111" stroke-width="0.32">0.6</text>
<text transform="translate(441,390.2) scale(1,1.1)" font-size="8" font-weight="normal" text-anchor="middle" stroke="#111" stroke-width="0.32">0.2</text>
<text transform="translate(493.8,390.2) scale(1,1.1)" font-size="8" font-weight="normal" text-anchor="middle" stroke="#111" stroke-width="0.32">1</text>
<rect x="128.7" y="437.1" width="294.3" height="30.5" fill="none" stroke="#222" stroke-width="1.3"/>
<rect x="143.4" y="449" width="8" height="8" fill="none" stroke="#111" stroke-width="1.2"/>
<text x="155" y="456.8" font-size="10" font-weight="bold" text-anchor="start" stroke="#111" stroke-width="0.15">Total</text>
<line x1="207.7" y1="453" x2="240" y2="453" stroke="#111" stroke-width="1.5"/>
<rect x="221.85" y="450.25" width="5.5" height="5.5" fill="#111"/>
<text x="244" y="456.8" font-size="10" font-weight="bold" text-anchor="start" stroke="#111" stroke-width="0.15">BM</text>
<line x1="284.6" y1="453" x2="316.3" y2="453" stroke="#111" stroke-width="1.5" stroke-dasharray="3.5,3"/>
<circle cx="302.2" cy="453" r="3" fill="#111"/>
<text x="319.4" y="456.8" font-size="10" font-weight="bold" text-anchor="start" stroke="#111" stroke-width="0.15">Spleen</text>
<line x1="361.5" y1="453" x2="393.8" y2="453" stroke="#111" stroke-width="1.3" stroke-dasharray="1.5,1.5"/>
<polygon points="379,449.49 382.25,455.34 375.75,455.34" fill="#111"/>
<text x="397" y="456.8" font-size="10" font-weight="bold" text-anchor="start" stroke="#111" stroke-width="0.15">PB</text>
</svg>
</body></html>
